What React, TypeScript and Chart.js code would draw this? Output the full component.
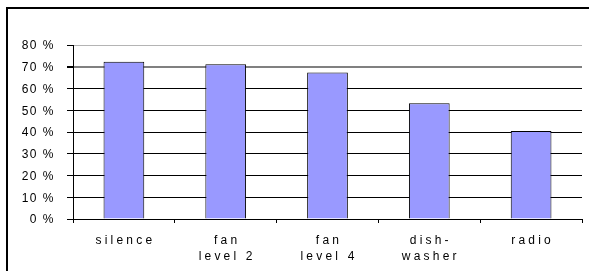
import React, { useEffect, useRef } from "react";
import { Chart, registerables } from "chart.js";

Chart.register(...registerables);

const categories: string[][] = [
  ["silence"],
  ["fan", "level 2"],
  ["fan", "level 4"],
  ["dish-", "washer"],
  ["radio"],
];
const values: number[] = [72.3, 71.1, 67.4, 53.2, 40.5];
const yMax = 80;
const yStep = 10;

const FONT = "'Liberation Sans', Arial, sans-serif";

const spacingPlugin = {
  id: "spacing",
  beforeDraw(chart: any) {
    const sp: Record<string, string> = { x: "3.2px", y: "1.5px" };
    for (const id of Object.keys(sp)) {
      const s: any = chart.scales[id];
      if (s && !s.__wrapped) {
        const orig = s.drawLabels;
        s.drawLabels = function (area: any) {
          const ctx = this.ctx;
          ctx.save();
          (ctx as any).letterSpacing = sp[id];
          if (id === "y") ctx.translate(0, 1);
          if (id === "x") ctx.translate(1.5, 0);
          orig.call(this, area);
          ctx.restore();
        };
        s.__wrapped = true;
      }
    }
  },
  afterDraw(chart: any) {
    const ctx = chart.ctx;
    ctx.save();
    ctx.strokeStyle = "#000";
    ctx.lineWidth = 2;
    ctx.strokeRect(7, 8, 620, 300);
    ctx.restore();
  },
};

export default function App() {
  const ref = useRef<HTMLCanvasElement>(null);
  useEffect(() => {
    document.body.style.margin = "0";
    const chart = new Chart(ref.current!, {
      type: "bar",
      data: {
        labels: categories,
        datasets: [
          {
            data: values,
            backgroundColor: "#9999FF",
            borderColor: "#000000",
            borderWidth: 1,
            barPercentage: 0.4,
            categoryPercentage: 1,
          },
        ],
      },
      options: {
        responsive: false,
        animation: false,
        layout: { padding: { left: 0, top: 45, right: 7, bottom: 0 } },
        plugins: { legend: { display: false }, tooltip: { enabled: false } },
        scales: {
          x: {
            grid: {
              display: true,
              drawOnChartArea: false,
              drawTicks: true,
              tickLength: 4,
              tickColor: "#000",
              offset: true,
            },
            border: { display: true, color: "#000", width: 1 },
            ticks: {
              font: { family: FONT, size: 12, lineHeight: "16px" },
              color: "#000",
              padding: 10,
              maxRotation: 0,
              autoSkip: false,
            },
            afterFit: (s: any) => {
              s.height = 52;
            },
          },
          y: {
            min: 0,
            max: yMax,
            ticks: {
              stepSize: yStep,
              font: { family: FONT, size: 12 },
              color: "#000",
              padding: 12,
              callback: (v: any) => v + " %",
            },
            grid: {
              drawTicks: true,
              tickLength: 6,
              tickColor: "#000",
              color: (c: any) =>
                c.tick && c.tick.value === 80
                  ? "#b4b4b4"
                  : c.tick && c.tick.value === 70
                  ? "#808080"
                  : "#000",
              lineWidth: (c: any) => (c.tick && c.tick.value === 70 ? 2 : 1),
            },
            border: { display: true, color: "#000", width: 1 },
            afterFit: (s: any) => {
              s.width = 73;
            },
          },
        },
      },
      plugins: [spacingPlugin],
    });
    return () => chart.destroy();
  }, []);
  return <canvas ref={ref} width={589} height={271} />;
}
